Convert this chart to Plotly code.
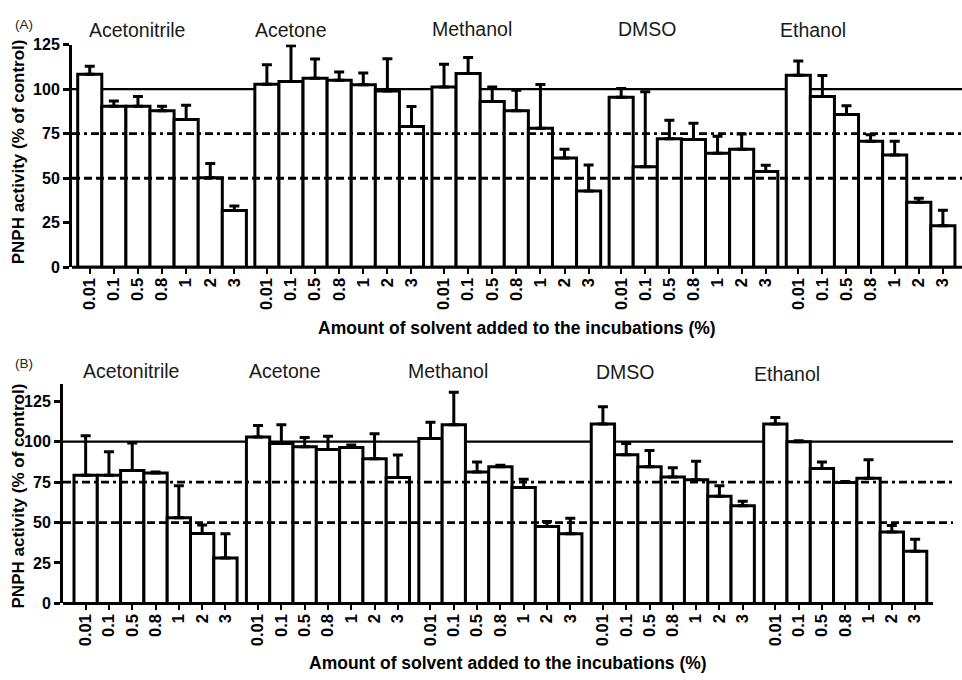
import plotly.graph_objects as go

W, H = 962, 680

solvents = ["Acetonitrile", "Acetone", "Methanol", "DMSO", "Ethanol"]
amounts = ["0.01", "0.1", "0.5", "0.8", "1", "2", "3"]

# Panel A: PNPH activity (% of control), mean and upper SD
a_acetonitrile = [108.3, 90.4, 90.4, 87.9, 83.0, 50.3, 31.9]
a_acetonitrile_sd = [4.5, 3.0, 5.5, 2.5, 8.0, 8.0, 2.5]
a_acetone = [102.7, 104.3, 106.1, 105.0, 102.5, 99.0, 79.0]
a_acetone_sd = [11.0, 20.0, 10.8, 4.6, 6.5, 18.0, 11.3]
a_methanol = [101.2, 108.7, 93.0, 87.9, 78.0, 61.3, 42.8]
a_methanol_sd = [12.8, 9.0, 8.2, 11.5, 24.6, 5.0, 14.6]
a_dmso = [95.4, 56.5, 72.2, 71.8, 64.0, 66.2, 53.8]
a_dmso_sd = [5.0, 42.0, 10.4, 9.0, 9.5, 8.6, 3.5]
a_ethanol = [107.8, 95.9, 85.7, 70.7, 63.1, 36.5, 23.4]
a_ethanol_sd = [8.0, 11.7, 5.0, 3.7, 7.6, 2.3, 8.7]

# Panel B: PNPH activity (% of control), mean and upper SD
b_acetonitrile = [79.2, 79.2, 82.2, 80.6, 53.0, 43.2, 28.1]
b_acetonitrile_sd = [24.5, 14.5, 17.0, 0.6, 19.8, 5.2, 15.0]
b_acetone = [102.9, 98.9, 96.9, 95.2, 96.3, 89.4, 77.8]
b_acetone_sd = [7.0, 11.6, 5.6, 8.2, 1.6, 15.5, 14.0]
b_methanol = [101.9, 110.5, 81.2, 84.4, 71.7, 47.6, 43.0]
b_methanol_sd = [10.0, 20.0, 6.2, 1.0, 5.0, 3.0, 9.7]
b_dmso = [110.9, 91.9, 84.4, 78.2, 76.4, 66.3, 60.3]
b_dmso_sd = [10.7, 7.0, 10.1, 5.6, 11.4, 6.5, 2.8]
b_ethanol = [110.9, 99.9, 83.4, 74.7, 77.4, 44.2, 32.2]
b_ethanol_sd = [4.0, 0.6, 4.0, 0.6, 11.4, 4.0, 7.4]

reference_lines = [100, 75, 50]

panels = [
    dict(
        name="(A)",
        means=[a_acetonitrile, a_acetone, a_methanol, a_dmso, a_ethanol],
        sds=[a_acetonitrile_sd, a_acetone_sd, a_methanol_sd, a_dmso_sd, a_ethanol_sd],
        gap=0.35, axis_px=72, right_px=962, base_end_px=962,
        top_px=37.5, bottom_px=266, ymax=125,
        first_bar_px=77.7, bar_px=24.1,
        label_off=[2.46, 1.5, 1.66, 1.58, 1.09],
        label_py=[23, 23, 22, 22, 23],
        tag_py=17, xtitle_py=328, ytitle_py=148,
    ),
    dict(
        name="(B)",
        means=[b_acetonitrile, b_acetone, b_methanol, b_dmso, b_ethanol],
        sds=[b_acetonitrile_sd, b_acetone_sd, b_methanol_sd, b_dmso_sd, b_ethanol_sd],
        gap=0.4, axis_px=63, right_px=953, base_end_px=933,
        top_px=386, bottom_px=610.7, ymax=135.4,
        first_bar_px=74, bar_px=23.3,
        label_off=[2.45, 1.65, 1.27, 1.47, 0.99],
        label_py=[372, 372, 372, 373, 375],
        tag_py=365, xtitle_py=672, ytitle_py=501,
    ),
]

FONT = "Arial, Liberation Sans, Helvetica, sans-serif"
LW = 3
fig = go.Figure()
shapes, annotations = [], []
layout_axes = {}

for k, p in enumerate(panels):
    n = k + 1
    xa = "x" if n == 1 else f"x{n}"
    ya = "y" if n == 1 else f"y{n}"
    step = 7 + p["gap"]
    # data-unit extent of the x axis from pixel geometry
    xmin = -0.5 - (p["first_bar_px"] - p["axis_px"]) / p["bar_px"]
    xmax = xmin + (p["right_px"] - p["axis_px"]) / p["bar_px"]
    base_frac = (p["base_end_px"] - p["axis_px"]) / (p["right_px"] - p["axis_px"])

    tickvals, ticktext = [], []
    for g, solvent in enumerate(solvents):
        xs = [g * step + i for i in range(len(amounts))]
        tickvals += xs
        ticktext += amounts
        fig.add_trace(go.Bar(
            x=xs, y=p["means"][g], width=1, xaxis=xa, yaxis=ya,
            marker=dict(color="white", line=dict(color="black", width=LW)),
            error_y=dict(type="data", symmetric=False, array=p["sds"][g],
                         arrayminus=[0] * len(amounts), color="black",
                         thickness=LW, width=5),
            showlegend=False, hoverinfo="skip",
        ))
        annotations.append(dict(
            x=g * step - 0.5 + p["label_off"][g], xref=xa,
            y=1 - p["label_py"][g] / H, yref="paper",
            text=solvent, showarrow=False, xanchor="center", yanchor="middle",
            font=dict(family=FONT, size=19.5, color="#1a1a1a"),
        ))

    layout_axes[("xaxis" if n == 1 else f"xaxis{n}")] = dict(
        domain=[p["axis_px"] / W, p["right_px"] / W], range=[xmin, xmax],
        anchor=ya, showline=False, showgrid=False, zeroline=False,
        tickmode="array", tickvals=tickvals, ticktext=ticktext,
        ticks="outside", ticklen=6, tickwidth=2.2, tickcolor="black",
        ticklabelstandoff=-3,
        tickangle=-90, tickfont=dict(family=FONT, size=16.5, color="black", weight="bold"),
    )
    layout_axes[("yaxis" if n == 1 else f"yaxis{n}")] = dict(
        domain=[1 - p["bottom_px"] / H, 1 - p["top_px"] / H], range=[0, p["ymax"]],
        anchor=xa, showline=True, linecolor="black", linewidth=LW,
        showgrid=False, zeroline=False, tickvals=[0, 25, 50, 75, 100, 125],
        ticks="outside", ticklen=6, tickwidth=LW, tickcolor="black",
        tickfont=dict(family=FONT, size=16, color="black", weight="bold"),
    )

    # control level and 75 % / 50 % guides
    styles = {100: ("solid", 2.2, "below"), 75: ("8px,4px,3px,4px", 2.8, "above"),
              50: ("8px,4px", 2.8, "above")}
    for level in reference_lines:
        dash, lw, layer = styles[level]
        shapes.append(dict(type="line", xref=xa, yref=ya, x0=xmin, x1=xmax,
                           y0=level, y1=level, layer=layer,
                           line=dict(color="black", width=lw, dash=dash)))
    # x-axis baseline
    shapes.append(dict(type="line", xref=f"{xa} domain", yref=f"{ya} domain",
                       x0=0, x1=base_frac, y0=0, y1=0, layer="above",
                       line=dict(color="black", width=LW)))

    annotations.append(dict(x=13 / W, y=1 - p["tag_py"] / H, xref="paper", yref="paper",
                            text=p["name"], showarrow=False, xanchor="left", yanchor="middle",
                            font=dict(family=FONT, size=13.5, color="#222")))
    annotations.append(dict(x=(p["axis_px"] + p["right_px"]) / 2 / W, y=1 - p["xtitle_py"] / H,
                            xref="paper", yref="paper",
                            text="<b>Amount of solvent added to the incubations (%)</b>",
                            showarrow=False, xanchor="center", yanchor="middle",
                            font=dict(family=FONT, size=17.5, color="black")))
    annotations.append(dict(x=18 / W, y=1 - p["ytitle_py"] / H, xref="paper", yref="paper",
                            text="<b>PNPH activity (% of control)</b>", textangle=-90,
                            showarrow=False, xanchor="center", yanchor="middle",
                            font=dict(family=FONT, size=17, color="black")))

fig.update_layout(
    width=W, height=H, margin=dict(l=0, r=0, t=0, b=0),
    paper_bgcolor="white", plot_bgcolor="white",
    barmode="overlay", shapes=shapes, annotations=annotations,
    **layout_axes,
)

fig.write_html("out.html")
